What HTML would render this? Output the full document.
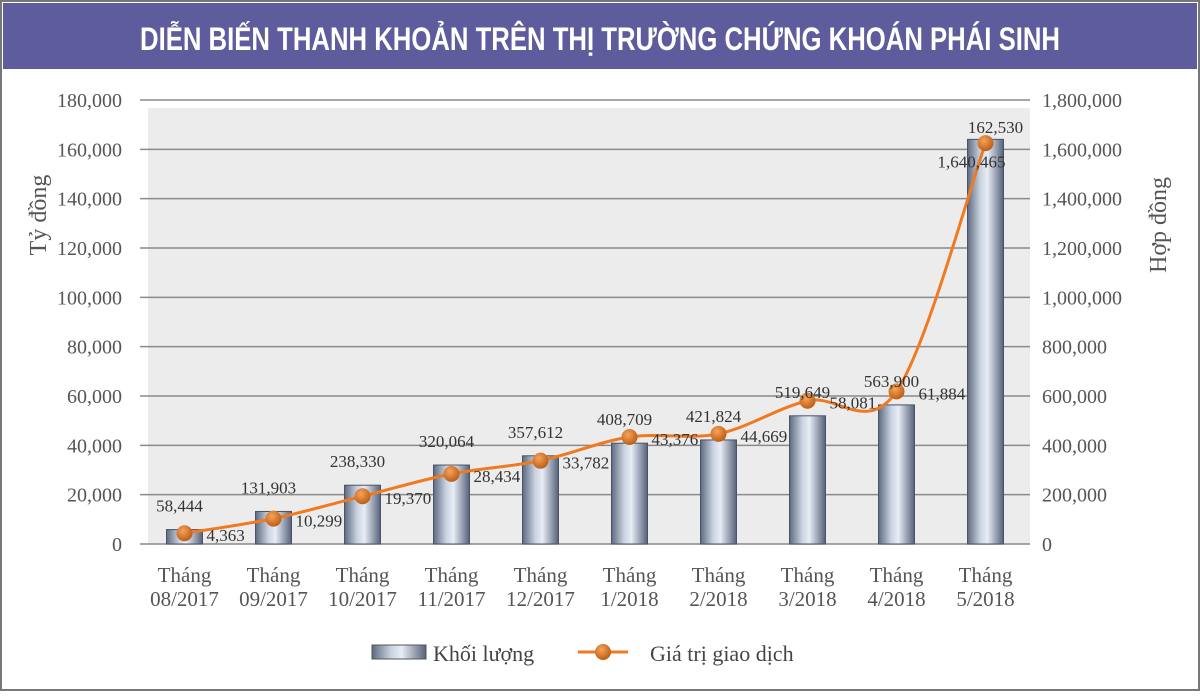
<!DOCTYPE html>
<html><head><meta charset="utf-8"><style>
body{margin:0;background:#fff;width:1200px;height:691px;overflow:hidden;font-family:"Liberation Serif",serif}
</style></head><body>
<svg width="1200" height="691" xmlns="http://www.w3.org/2000/svg">
<defs>
<linearGradient id="bg" x1="0" x2="1" y1="0" y2="0">
<stop offset="0" stop-color="#5d6a80"/><stop offset="0.35" stop-color="#c9d2e0"/><stop offset="0.55" stop-color="#e8edf5"/><stop offset="1" stop-color="#56627a"/>
</linearGradient>
<radialGradient id="dot" cx="0.4" cy="0.35" r="0.7"><stop offset="0" stop-color="#f7a35a"/><stop offset="1" stop-color="#b85a10"/></radialGradient>
</defs>
<rect x="1" y="1" width="1198" height="689" fill="#fff" stroke="#777" stroke-width="2"/>
<rect x="3" y="3" width="1194" height="66" fill="#5e5c9c"/>
<text x="140" y="50" textLength="920" lengthAdjust="spacingAndGlyphs" fill="#fff" font-family="Liberation Sans Narrow, Liberation Sans, sans-serif" font-weight="bold" font-size="32">DIỄN BIẾN THANH KHOẢN TRÊN THỊ TRƯỜNG CHỨNG KHOÁN PHÁI SINH</text>
<rect x="148" y="108" width="882" height="436" fill="#ececec"/>
<g id="grid"></g><g id="bars"></g><g id="line"></g><g id="labels"></g>
<text transform="translate(46,215) rotate(-90)" text-anchor="middle" font-size="24" fill="#555">Tỷ đồng</text>
<text transform="translate(1166,225) rotate(-90)" text-anchor="middle" font-size="24" fill="#555">Hợp đồng</text>
<g>
<rect x="372" y="645" width="54" height="14" fill="url(#bg)" stroke="#555"/>
<text x="433" y="661" font-size="22" fill="#444">Khối lượng</text>
<line x1="578" y1="652" x2="628" y2="652" stroke="#f07a20" stroke-width="3"/>
<circle cx="603" cy="652" r="8" fill="url(#dot)"/>
<text x="650" y="661" font-size="22" fill="#444">Giá trị giao  dịch</text>
</g>
</svg>
<script>
const categories=[["Tháng","08/2017"],["Tháng","09/2017"],["Tháng","10/2017"],["Tháng","11/2017"],["Tháng","12/2017"],["Tháng","1/2018"],["Tháng","2/2018"],["Tháng","3/2018"],["Tháng","4/2018"],["Tháng","5/2018"]];
const volume=[58444,131903,238330,320064,357612,408709,421824,519649,563900,1640465];
const value=[4363,10299,19370,28434,33782,43376,44669,58081,61884,162530];
const leftTicks=[0,20000,40000,60000,80000,100000,120000,140000,160000,180000];
const rightTicks=[0,200000,400000,600000,800000,1000000,1200000,1400000,1600000,1800000];
const NS="http://www.w3.org/2000/svg";
const X0=140,X1=1030,Y0=544,Y1=100;
const bw=(X1-X0)/categories.length;
const xc=i=>X0+bw*(i+0.5);
const yl=v=>Y0-(v/180000)*(Y0-Y1);
const yr=v=>Y0-(v/1800000)*(Y0-Y1);
const fmt=v=>v.toLocaleString('en-US');
function mk(t,a,p){const e=document.createElementNS(NS,t);for(const k in a)e.setAttribute(k,a[k]);p.appendChild(e);return e;}
const grid=document.getElementById('grid'),bars=document.getElementById('bars'),line=document.getElementById('line'),labels=document.getElementById('labels');
const last=categories.length-1;
leftTicks.forEach((v,i)=>{
  const y=yl(v);
  const l=mk('line',{x1:X0,x2:X1,y1:y,y2:y,stroke:'#8a8a8a','stroke-width':1.5},grid);
  
  
  const t=mk('text',{x:122,y:y+7,'text-anchor':'end','font-size':20,fill:'#555'},grid);t.textContent=fmt(v);
  
  
});
rightTicks.forEach(v=>{
  const t=mk('text',{x:1042,y:yr(v)+7,'font-size':20,fill:'#555'},grid);t.textContent=fmt(v);
  
  
});
categories.forEach((c,i)=>{
  const t1=mk('text',{x:xc(i),y:582,'text-anchor':'middle','font-size':21,fill:'#555'},grid);t1.textContent=c[0];
  
  
  const t2=mk('text',{x:xc(i),y:606,'text-anchor':'middle','font-size':21,fill:'#555'},grid);t2.textContent=c[1];
  
  
});
volume.forEach((v,i)=>{
  const y=yr(v);
  const r=mk('rect',{x:xc(i)-18,y:y,width:36,height:Y0-y,fill:'url(#bg)',stroke:'#4a5468','stroke-width':1},bars);
  
  
  const t=mk('text',{x:xc(i)-(i==last?14:5),y:y-(i==last?-28:18),'text-anchor':'middle','font-size':17,fill:'#333'},labels);t.textContent=fmt(v);
  
  
});
const pts=value.map((v,i)=>[xc(i),yl(v)]);
let d='M'+pts[0][0]+','+pts[0][1];
for(let i=0;i<pts.length-1;i++){
  const p0=pts[Math.max(0,i-1)],p1=pts[i],p2=pts[i+1],p3=pts[Math.min(pts.length-1,i+2)];
  const c1=[p1[0]+(p2[0]-p0[0])/6,p1[1]+(p2[1]-p0[1])/6],c2=[p2[0]-(p3[0]-p1[0])/6,p2[1]-(p3[1]-p1[1])/6];
  d+=` C${c1[0]},${c1[1]} ${c2[0]},${c2[1]} ${p2[0]},${p2[1]}`;
}
const path=mk('path',{d:d,fill:'none',stroke:'#f07a20','stroke-width':3},line);


pts.forEach((p,i)=>{
  const c=mk('circle',{cx:p[0],cy:p[1],r:8,fill:'url(#dot)'},line);
  
  
  const t=mk('text',{x:p[0]+(i==last?10:22),y:p[1]+(i==last?-10:8),'font-size':17,fill:'#333','text-anchor':i==last?'middle':'start'},labels);t.textContent=fmt(value[i]);
  
  
});
</script>
</body></html>
